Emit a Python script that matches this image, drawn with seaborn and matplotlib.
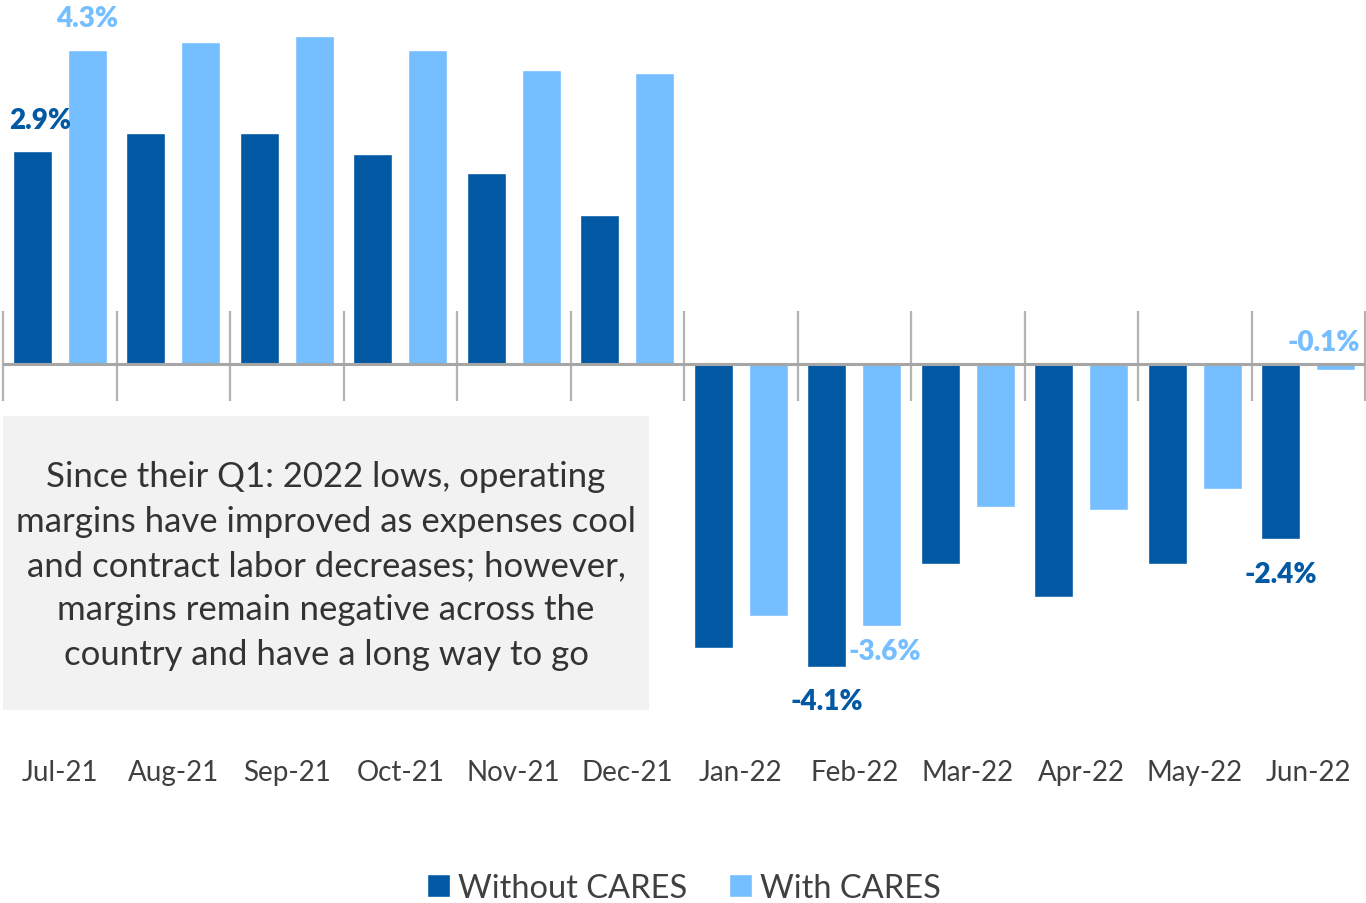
import numpy as np
import pandas as pd
import matplotlib.pyplot as plt
from matplotlib.patches import Rectangle
import seaborn as sns

# Operating margin by month, with and without CARES funding
months = ['Jul-21', 'Aug-21', 'Sep-21', 'Oct-21', 'Nov-21', 'Dec-21',
          'Jan-22', 'Feb-22', 'Mar-22', 'Apr-22', 'May-22', 'Jun-22']
without_cares = [2.9, 3.14, 3.14, 2.86, 2.59, 2.03, -3.86, -4.12, -2.72, -3.17, -2.72, -2.38]
with_cares = [4.27, 4.38, 4.46, 4.27, 4.0, 3.96, -3.43, -3.56, -1.95, -1.99, -1.70, -0.08]
series_names = ['Without CARES', 'With CARES']
note = ('Since their Q1: 2022 lows, operating\n'
        'margins have improved as expenses cool\n'
        'and contract labor decreases; however,\n'
        'margins remain negative across the\n'
        'country and have a long way to go')

dark = '#0158A3'
light = '#75BEFF'
grey_txt = '#404040'

df = pd.DataFrame({
    'month': months * 2,
    'series': [series_names[0]] * 12 + [series_names[1]] * 12,
    'value': without_cares + with_cares,
})

sns.set_style('white')
plt.rcParams['font.family'] = ['Lato', 'DejaVu Sans']

fig = plt.figure(figsize=(13.66, 9.04), dpi=100)
ax = fig.add_axes([3 / 1366, (904 - 703) / 904, 1362 / 1366, 691 / 904])

sns.barplot(data=df, x='month', y='value', hue='series', palette=[dark, light],
            saturation=1, width=0.97, gap=0.29, ax=ax, zorder=2)

ax.set_xlim(-0.5, 11.5)
ax.set_ylim(-4.6, 4.8)

# zero axis and category separators
ax.axhline(0, color='#a6a6a6', lw=2.2, zorder=3)
ax.vlines(np.arange(-0.5, 12, 1), -0.5, 0.72, color='#b3b3b3', lw=1.6, zorder=1, clip_on=False)

for s in ax.spines.values():
    s.set_visible(False)
ax.set_yticks([])
ax.set_xlabel('')
ax.set_ylabel('')
ax.tick_params(axis='x', length=0, pad=41, labelsize=20, labelcolor=grey_txt)

# data labels: (series, month index, offset x pts, offset y pts)
offset = 0.2425
label_specs = [
    (0, 0, 6, 22),
    (1, 0, 0, 23),
    (0, 7, 0, -25),
    (1, 7, 2, -18),
    (0, 11, 0, -25),
    (1, 11, -9, 20),
]
for si, mi, dx, dy in label_specs:
    vals = without_cares if si == 0 else with_cares
    x = mi + (offset if si == 1 else -offset)
    ax.annotate(f'{vals[mi]:.1f}%', xy=(x, vals[mi]), xytext=(dx, dy),
                textcoords='offset points', ha='center', va='center',
                fontsize=20, fontweight='heavy', color=dark if si == 0 else light)

# commentary box
fig.patches.append(Rectangle((3 / 1366, (904 - 711) / 904), 646 / 1366, 294 / 904,
                             transform=fig.transFigure, facecolor='#f2f2f2',
                             edgecolor='none', zorder=4))
fig.text(326 / 1366, (904 - 566) / 904, note, ha='center', va='center',
         fontsize=25, color='#333333', linespacing=1.48, zorder=5)

sns.move_legend(ax, 'center', bbox_to_anchor=(0.5, (703 - 889) / 691), ncol=2,
                frameon=False, title=None, fontsize=23.5, handlelength=0.7,
                handleheight=0.7, handletextpad=0.25, columnspacing=1.3)
for t in ax.get_legend().get_texts():
    t.set_color(grey_txt)

plt.savefig('out.png', dpi=100)
plt.close()
